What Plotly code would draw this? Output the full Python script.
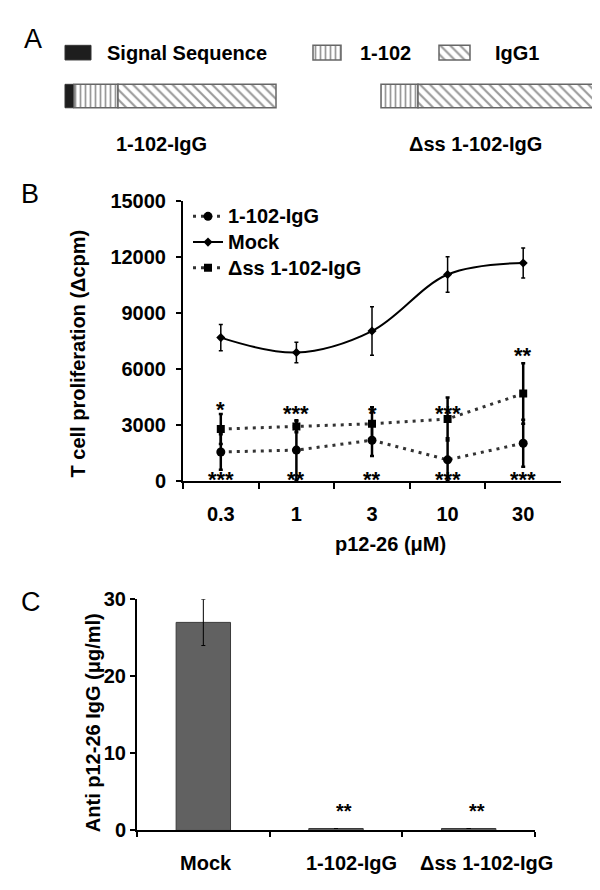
import plotly.graph_objects as go

# ---------------- Panel A (schematic: segment lengths) ----
segments = ["Signal Sequence", "1-102", "IgG1"]
construct_names = ["1-102-IgG", "Δss 1-102-IgG"]
len_1102_igg = [9, 44, 158]
len_dss = [0, 37, 175]

# ---------------- Panel B ----------------
conc = ["0.3", "1", "3", "10", "30"]
igg_mean = [1570, 1670, 2200, 1150, 2040]
igg_err = [950, 1600, 840, 1150, 1260]
mock_mean = [7700, 6900, 8050, 11080, 11700]
mock_err = [700, 550, 1300, 950, 800]
dss_mean = [2800, 2930, 3080, 3340, 4700]
dss_err = [800, 300, 890, 1150, 1620]
stars_top = ["*", "***", "*", "***", "**"]
stars_top_y = [4130, 3920, 3920, 3920, 7000]
stars_bottom = ["***", "**", "**", "***", "***"]
stars_bottom_y = [340, 340, 340, 340, 340]

# ---------------- Panel C ----------------
groups = ["Mock", "1-102-IgG", "Δss 1-102-IgG"]
anti_mean = [27.0, 0.25, 0.25]
anti_err = [3.0, 0, 0]
stars_c = ["", "**", "**"]
stars_c_y = [0, 3.0, 3.0]

FONT = "Liberation Sans, Arial, sans-serif"
W, H = 600, 890


def py(p):  # pixel row -> paper fraction
    return 1 - p / H


fig = go.Figure()

# ---- Panel A bars ----
seg_styles = [
    dict(color="#1e1e1e", line=dict(color="#333", width=1)),
    dict(color="white", pattern=dict(shape="|", fgcolor="#333", bgcolor="white", size=5, solidity=0.35),
         line=dict(color="#666", width=1.5)),
    dict(color="white", pattern=dict(shape="\\", fgcolor="#333", bgcolor="white", size=7, solidity=0.3),
         line=dict(color="#666", width=1.5)),
]
construct_start = [57, 373]
construct_lens = [len_1102_igg, len_dss]
bar_row = 79
for start, lens in zip(construct_start, construct_lens):
    base = start
    for si, L in enumerate(lens):
        if L > 0:
            fig.add_trace(go.Bar(x=[L], base=[base], y=[bar_row], width=[24], orientation="h",
                                 marker=seg_styles[si], xaxis="x3", yaxis="y3",
                                 showlegend=False, hoverinfo="skip"))
        base += L

# legend swatches for panel A
sw_x = [57, 305, 431]
sw_w = [26, 28, 31]
sw_text_x = [97, 350, 485]
for si in range(3):
    fig.add_trace(go.Bar(x=[sw_w[si]], base=[sw_x[si]], y=[34.5], width=[15], orientation="h",
                         marker=seg_styles[si], xaxis="x3", yaxis="y3",
                         showlegend=False, hoverinfo="skip"))

# ---- Panel B traces ----
def legname(s):
    return '<span style="font-size:20px">' + s + '</span>'

fig.add_trace(go.Scatter(
    x=conc, y=igg_mean, name=legname("1-102-IgG"), mode="lines+markers",
    line=dict(color="#333", width=3, dash="3px,5px"),
    marker=dict(symbol="circle", size=9, color="black"),
    error_y=dict(type="data", array=igg_err, color="black", thickness=2.5, width=2),
    xaxis="x", yaxis="y"))
fig.add_trace(go.Scatter(
    x=conc, y=mock_mean, name=legname("Mock"), mode="lines+markers",
    line=dict(color="black", width=2, shape="spline", smoothing=1.0),
    marker=dict(symbol="diamond", size=7, color="black"),
    error_y=dict(type="data", array=mock_err, color="black", thickness=1.5, width=2),
    xaxis="x", yaxis="y"))
fig.add_trace(go.Scatter(
    x=conc, y=dss_mean, name=legname("Δss 1-102-IgG"), mode="lines+markers",
    line=dict(color="#333", width=3, dash="3px,5px"),
    marker=dict(symbol="square", size=8, color="black"),
    error_y=dict(type="data", array=dss_err, color="black", thickness=2.5, width=2),
    xaxis="x", yaxis="y"))

# ---- Panel C ----
fig.add_trace(go.Bar(
    x=groups, y=anti_mean, width=0.41,
    marker=dict(color="#616161", line=dict(color="#3a3a3a", width=1)),
    error_y=dict(type="data", array=anti_err, color="black", thickness=1, width=2),
    xaxis="x2", yaxis="y2", showlegend=False))

ann = []
bold20 = dict(family=FONT, size=20, color="black", weight="bold")

# panel letters
for letter, cx, cy in [("A", 25, 21), ("B", 22, 179), ("C", 23, 598)]:
    ann.append(dict(text=letter, x=cx / W, y=py(cy), xref="paper", yref="paper",
                    showarrow=False, xanchor="center", yanchor="middle",
                    font=dict(family=FONT, size=27, color="black")))

# panel A texts
for si in range(3):
    ann.append(dict(text=segments[si], x=sw_text_x[si], y=35, xref="x3", yref="y3",
                    showarrow=False, xanchor="left", yanchor="middle", font=bold20))
for name, cx in zip(construct_names, [153, 467]):
    ann.append(dict(text=name, x=cx, y=128, xref="x3", yref="y3",
                    showarrow=False, xanchor="center", yanchor="middle", font=bold20))

# panel B stars (category index positions)
star_font = dict(family=FONT, size=22, color="black", weight="bold")
for i, (s, yv) in enumerate(zip(stars_top, stars_top_y)):
    ann.append(dict(text=s, x=i, y=yv, xref="x", yref="y", showarrow=False,
                    xanchor="center", yanchor="middle", yshift=-5, font=star_font))
for i, (s, yv) in enumerate(zip(stars_bottom, stars_bottom_y)):
    ann.append(dict(text=s, x=i, y=yv, xref="x", yref="y", showarrow=False,
                    xanchor="center", yanchor="middle", yshift=-5, font=star_font))

# panel B axis titles
ann.append(dict(text="T cell proliferation (Δcpm)", x=70 / W, y=py(343), xref="paper", yref="paper",
                showarrow=False, textangle=-90, xanchor="center", yanchor="middle", font=bold20))
ann.append(dict(text="p12-26 (μM)", x=382 / W, y=py(538), xref="paper", yref="paper",
                showarrow=False, xanchor="center", yanchor="middle", font=bold20))

# panel C stars and labels
for i, (s, yv) in enumerate(zip(stars_c, stars_c_y)):
    if s:
        ann.append(dict(text=s, x=i, y=yv, xref="x2", yref="y2", showarrow=False,
                        xanchor="center", yanchor="middle", xshift=8, yshift=-4,
                        font=dict(family=FONT, size=20, color="black", weight="bold")))
for i, (g, xs) in enumerate(zip(groups, [3, 15, 18])):
    ann.append(dict(text=g, x=i, y=0, xref="x2", yref="y2", showarrow=False,
                    xanchor="center", yanchor="middle", xshift=xs, yshift=-33, font=bold20))
ann.append(dict(text="Anti p12-26 IgG (μg/ml)", x=85 / W, y=py(722), xref="paper", yref="paper",
                showarrow=False, textangle=-90, xanchor="center", yanchor="middle", font=bold20))

axis_common = dict(showgrid=False, zeroline=False, showline=True, linecolor="black", linewidth=2,
                   ticks="outside", tickcolor="black", tickwidth=2, tickfont=bold20)

fig.update_layout(
    width=W, height=H,
    margin=dict(l=0, r=0, t=0, b=0),
    paper_bgcolor="white", plot_bgcolor="white",
    font=dict(family=FONT, color="black"),
    barmode="overlay",
    showlegend=True,
    legend=dict(x=0.30, y=py(184), xanchor="left", yanchor="top",
                font=dict(family=FONT, size=17.5, color="black", weight="bold"),
                bgcolor="rgba(0,0,0,0)", itemwidth=30, tracegroupgap=0),
    xaxis=dict(domain=[175 / W, 553 / W], anchor="y", type="category", range=[-0.5, 4.5],
               tickson="boundaries", ticklen=6, ticklabelstandoff=14, **axis_common),
    yaxis=dict(domain=[py(474), py(187)], anchor="x", range=[0, 15000], dtick=3000,
               tickformat="d", ticklen=5, ticklabelstandoff=6, **axis_common),
    xaxis2=dict(domain=[129 / W, 527 / W], anchor="y2", type="category", range=[-0.5, 2.5],
                tickson="boundaries", ticklen=5, showticklabels=False, **axis_common),
    yaxis2=dict(domain=[py(832), py(595)], anchor="x2", range=[0, 30], dtick=10,
                ticklen=5, ticklabelstandoff=0, **axis_common),
    xaxis3=dict(domain=[0, 1], anchor="y3", range=[0, W], visible=False, fixedrange=True),
    yaxis3=dict(domain=[py(160), 1], anchor="x3", range=[160, 0], visible=False, fixedrange=True),
    annotations=ann,
)

fig.write_html("out.html")
